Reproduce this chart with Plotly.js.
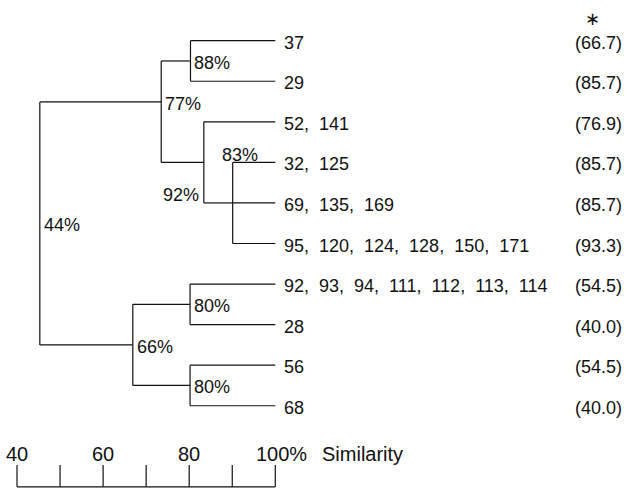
<!DOCTYPE html>
<html>
<head>
<meta charset="utf-8">
<script src="https://cdn.plot.ly/plotly-3.0.1.min.js"></script>
<style>html,body{margin:0;padding:0;background:#fff;}#chart{width:627px;height:489px;}</style>
</head>
<body>
<div id="chart"></div>
<script>
// ---- data ----
var leafLabels = ["37", "29", "52, 141", "32, 125", "69, 135, 169",
  "95, 120, 124, 128, 150, 171", "92, 93, 94, 111, 112, 113, 114", "28", "56", "68"];
var leafValues = [66.7, 85.7, 76.9, 85.7, 85.7, 93.3, 54.5, 40.0, 54.5, 40.0];
var leafParent = [2, 2, 3, 4, 4, 4, 6, 6, 7, 7];

var nodeLabels = ["44%", "77%", "88%", "92%", "83%", "66%", "80%", "80%"];
var nodeX      = [45.3, 73.5, 80.3, 83.4, 90.1, 66.9, 80.2, 80.2];
var nodeParent = [-1, 0, 1, 1, 3, 0, 5, 5];
var nodeJoinRow = [null, 1.51, 0.5, 3, 4, 7.5, 6.5, 8.5];
var nodeLabelRow = [4.49, 1.51, 0.5, 3.76, 2.77, 7.5, 6.5, 8.5];
var nodeLabelSide = ["right", "right", "right", "left", "above", "right", "right", "right"];

var scaleTicks = [40, 50, 60, 70, 80, 90, 100];
var scaleLabelValues = [40, 60, 80, 100];
var scaleLabelTexts = ["40", "60", "80", "100%"];
var scaleTitle = "Similarity";
var valueHeader = "\u2217";
var leafEnd = 100;

// ---- build ----
var FONT = "Liberation Sans, Arial, Helvetica, sans-serif";
var lx = [], ly = [];
function seg(x0, y0, x1, y1) { lx.push(x0, x1, null); ly.push(y0, y1, null); }

var ext = nodeX.map(function(){ return [Infinity, -Infinity]; });
function addExt(n, r) { ext[n][0] = Math.min(ext[n][0], r); ext[n][1] = Math.max(ext[n][1], r); }
leafParent.forEach(function(p, i){ addExt(p, i); });
nodeParent.forEach(function(p, i){ if (p >= 0) addExt(p, nodeJoinRow[i]); });
nodeX.forEach(function(x, i){ seg(x, ext[i][0], x, ext[i][1]); });
nodeParent.forEach(function(p, i){ if (p >= 0) seg(nodeX[p], nodeJoinRow[i], nodeX[i], nodeJoinRow[i]); });
leafParent.forEach(function(p, i){ seg(nodeX[p], i, leafEnd, i); });

var sx = [], sy = [];
var scaleRow = 11.0, tickTop = 10.46;
sx.push(scaleTicks[0], scaleTicks[scaleTicks.length - 1], null); sy.push(scaleRow, scaleRow, null);
scaleTicks.forEach(function(t){ sx.push(t, t, null); sy.push(tickTop, scaleRow, null); });

var traces = [
  {type: "scatter", mode: "lines", x: lx, y: ly, line: {color: "#111", width: 1.2}, hoverinfo: "skip"},
  {type: "scatter", mode: "lines", x: sx, y: sy, line: {color: "#111", width: 1.2}, hoverinfo: "skip"}
];

var ann = [];
var fLeaf = {family: FONT, size: 18, color: "#111"};
leafLabels.forEach(function(t, i){
  ann.push({x: leafEnd, y: i, text: t.replace(/, /g, ",\u00a0 "), xanchor: "left", yanchor: "middle",
            xshift: 7, yshift: -2, showarrow: false, font: fLeaf});
  ann.push({x: 181.7, y: i, text: "(" + leafValues[i].toFixed(1) + ")", xanchor: "right", yanchor: "middle",
            xshift: -3, yshift: -2, showarrow: false, font: fLeaf});
});
ann.push({x: 181.7, y: -0.56, text: valueHeader, xanchor: "center", yanchor: "middle", xshift: -35, yshift: 0,
          height: 14, showarrow: false, font: {family: "DejaVu Sans, " + FONT, size: 18, color: "#111"}});
nodeLabels.forEach(function(t, i){
  var a = {x: nodeX[i], y: nodeLabelRow[i], text: t, showarrow: false, font: fLeaf, yanchor: "middle", yshift: -2};
  if (nodeLabelSide[i] === "right") { a.xanchor = "left"; a.xshift = 2; }
  else if (nodeLabelSide[i] === "left") { a.xanchor = "right"; a.xshift = -3; }
  else { a.xanchor = "center"; a.xshift = 7; }
  ann.push(a);
});
var fScale = {family: FONT, size: 20, color: "#111"};
scaleLabelValues.forEach(function(v, i){
  var a = {x: v, y: 10.153, text: scaleLabelTexts[i], xanchor: "center", yanchor: "middle", yshift: -1,
           showarrow: false, font: fScale};
  if (i === scaleLabelValues.length - 1) a.xshift = 6;
  ann.push(a);
});
ann.push({x: 100, y: 10.153, text: scaleTitle, xanchor: "left", yanchor: "middle", xshift: 45, yshift: -1,
          showarrow: false, font: fScale});

var layout = {
  width: 627, height: 489,
  margin: {l: 0, r: 0, t: 0, b: 0, pad: 0},
  paper_bgcolor: "#fff", plot_bgcolor: "#fff",
  showlegend: false,
  xaxis: {range: [36.05, 181.7], visible: false, fixedrange: true},
  yaxis: {range: [11.053, -1.0035], visible: false, fixedrange: true},
  annotations: ann
};
Plotly.newPlot("chart", traces, layout, {staticPlot: true, displayModeBar: false});
</script>
</body>
</html>
